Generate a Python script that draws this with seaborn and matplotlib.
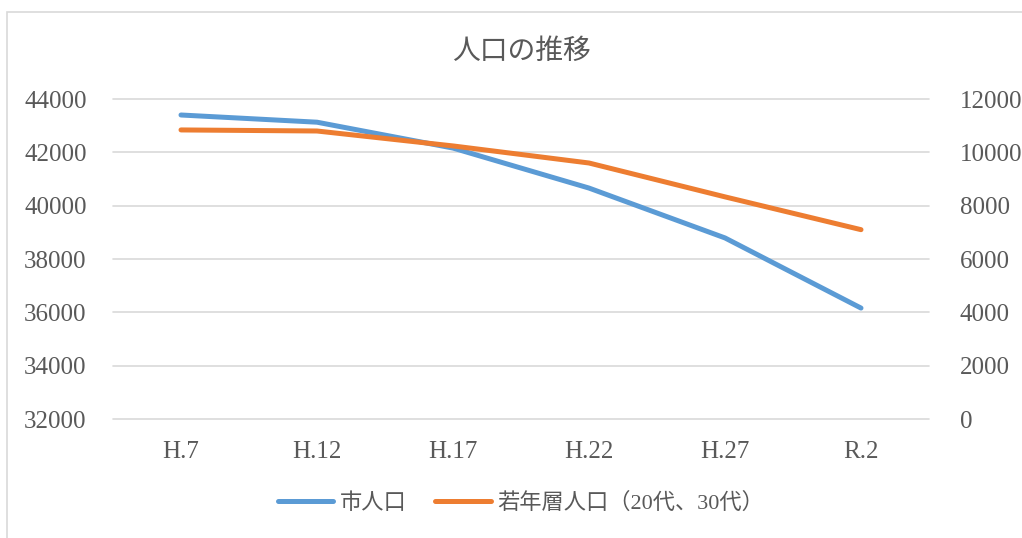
import matplotlib
matplotlib.use("Agg")
import matplotlib.pyplot as plt
import matplotlib.patches as mpatches
import seaborn as sns
import pandas as pd

# chart data
periods = ["H.7", "H.12", "H.17", "H.22", "H.27", "R.2"]
city_pop = [43400, 43130, 42160, 40660, 38790, 36160]
young_pop = [10840, 10800, 10240, 9600, 8330, 7100]
left_ticks = [32000, 34000, 36000, 38000, 40000, 42000, 44000]
right_ticks = [0, 2000, 4000, 6000, 8000, 10000, 12000]

title = "人口の推移"
label_city = "市人口"
label_young = "若年層人口（20代、30代）"

BLUE = "#5B9BD5"
ORANGE = "#ED7D31"
TEXT = "#595959"
GRID = "#D9D9D9"

sns.set_theme(style="white")
plt.rcParams["font.family"] = ["Liberation Serif", "Noto Sans CJK JP", "DejaVu Sans"]

df = pd.DataFrame({"period": periods, "city": city_pop, "young": young_pop})
df["x"] = range(len(periods))

fig = plt.figure(figsize=(10.22, 5.38), dpi=100)
ax = fig.add_axes([113 / 1022, 1 - 419 / 538, (929 - 113) / 1022, (419 - 99) / 538])
ax2 = ax.twinx()

sns.lineplot(data=df, x="x", y="city", ax=ax, color=BLUE, linewidth=3.6,
             solid_capstyle="round", label=label_city, legend=False)
sns.lineplot(data=df, x="x", y="young", ax=ax2, color=ORANGE, linewidth=3.6,
             solid_capstyle="round", label=label_young, legend=False)

ax.set_xlim(-0.5, len(periods) - 0.5)
ax.set_ylim(left_ticks[0], left_ticks[-1])
ax2.set_ylim(right_ticks[0], right_ticks[-1])
ax.set_yticks(left_ticks)
ax2.set_yticks(right_ticks)
ax.set_xticks(df["x"])
ax.set_xticklabels(periods)
ax.set_xlabel("")
ax.set_ylabel("")
ax2.set_ylabel("")

ax.grid(axis="y", color=GRID, linewidth=1.2)
ax.set_axisbelow(True)
for gl in ax.yaxis.get_gridlines():
    gl.set_clip_on(False)
for a in (ax, ax2):
    for s in a.spines.values():
        s.set_visible(False)
    a.tick_params(length=0, labelsize=18, labelcolor=TEXT)
ax.tick_params(axis="y", pad=19)
ax2.tick_params(axis="y", pad=22)
ax.tick_params(axis="x", pad=16)

fig.text(521 / 1022, 1 - 51 / 538, title, ha="center", va="center",
         fontsize=20, color=TEXT, family=["Noto Sans CJK JP"])

handles = ax.get_lines() + ax2.get_lines()
leg = fig.legend(handles, [label_city, label_young], loc="center",
                 bbox_to_anchor=(521 / 1022, 1 - 503 / 538), ncol=2, frameon=False,
                 fontsize=16, handlelength=2.5, handletextpad=0.3, columnspacing=1.3,
                 labelcolor=TEXT)

# chart border, cut by the image edge on the right and bottom
fig.patches.append(mpatches.Rectangle((7 / 1022, -0.1), 1.1, 1.1 - 12 / 538,
                                      transform=fig.transFigure, fill=False,
                                      edgecolor=GRID, linewidth=1.2))

fig.savefig("out.png", dpi=100)
